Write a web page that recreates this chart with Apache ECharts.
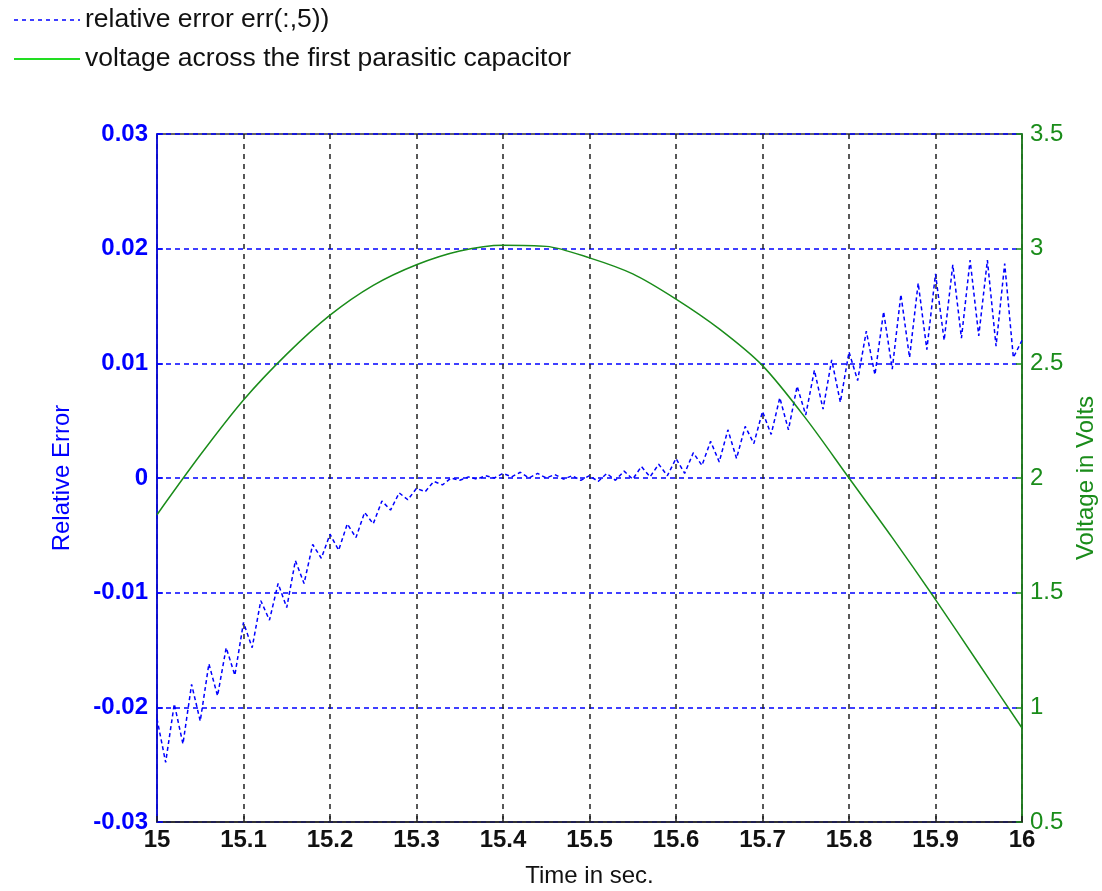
<!DOCTYPE html>
<html>
<head>
<meta charset="utf-8">
<script src="https://cdn.jsdelivr.net/npm/echarts@6/dist/echarts.min.js"></script>
<style>
  html, body { margin: 0; padding: 0; background: #fff; }
  #main { width: 1102px; height: 891px; }
</style>
</head>
<body>
<div id="main"></div>
<script>
// relative error, every 0.01 s (zigzag between top and bottom of the band)
var errT = [];
for (var i = 0; i <= 100; i++) errT.push(+(15 + i / 100).toFixed(2));
var errV = [
  -0.0210, -0.0248, -0.0197, -0.0232, -0.0180, -0.0212, -0.0162, -0.0190, -0.0148, -0.0172,
  -0.0126, -0.0148, -0.0107, -0.0124, -0.0092, -0.0113, -0.0072, -0.0092, -0.0058, -0.0070,
  -0.0049, -0.0063, -0.0040, -0.0052, -0.0030, -0.0040, -0.0020, -0.0028, -0.0013, -0.0019,
  -0.0009, -0.0012, -0.0003, -0.0006, 0.0000, -0.0002, 0.0001, -0.0001, 0.0002, 0.0000,
  0.0004, 0.0001, 0.0005, 0.0000, 0.0004, 0.0000, 0.0003, -0.0001, 0.0002, -0.0002,
  0.0002, -0.0003, 0.0004, -0.0002, 0.0006, -0.0001, 0.0010, 0.0001, 0.0012, 0.0002,
  0.0017, 0.0004, 0.0022, 0.0011, 0.0032, 0.0014, 0.0042, 0.0017, 0.0045, 0.0030,
  0.0058, 0.0038, 0.0070, 0.0042, 0.0080, 0.0055, 0.0094, 0.0060, 0.0103, 0.0066,
  0.0110, 0.0085, 0.0128, 0.0090, 0.0145, 0.0095, 0.0160, 0.0105, 0.0170, 0.0112,
  0.0178, 0.0120, 0.0186, 0.0122, 0.0190, 0.0124, 0.0190, 0.0115, 0.0187, 0.0105,
  0.0120
];

// voltage across the first parasitic capacitor, every 0.05 s
var voltT = [15.00, 15.05, 15.10, 15.15, 15.20, 15.25, 15.30, 15.35, 15.40, 15.45, 15.50,
             15.55, 15.60, 15.65, 15.70, 15.75, 15.80, 15.85, 15.90, 15.95, 16.00];
var voltV = [1.84, 2.10, 2.34, 2.54, 2.71, 2.84, 2.93, 2.99, 3.015, 3.01, 2.96,
             2.89, 2.78, 2.65, 2.49, 2.26, 2.00, 1.74, 1.47, 1.19, 0.91];

var legendNames = ['relative error err(:,5))', 'voltage across the first parasitic capacitor'];

var BLUE = '#0000ff';
var GREEN = '#1a8c1a';
var FONT = '"Liberation Sans", Arial, sans-serif';

function pairs(xs, ys) {
  var out = [];
  for (var i = 0; i < xs.length; i++) out.push([xs[i], ys[i]]);
  return out;
}

var myChart = echarts.init(document.getElementById('main'));

var option = {
  animation: false,
  backgroundColor: '#ffffff',
  textStyle: { fontFamily: FONT },
  legend: {
    orient: 'vertical',
    left: 8,
    top: 1,
    itemWidth: 66,
    itemHeight: 14,
    itemGap: 11,
    textStyle: { fontSize: 26.5, lineHeight: 28, color: '#111', fontFamily: FONT },
    data: [
      { name: legendNames[0], itemStyle: { opacity: 0 }, lineStyle: { color: BLUE, type: [4, 4], width: 1.5 } },
      { name: legendNames[1], itemStyle: { opacity: 0 }, lineStyle: { color: '#22dd22', type: 'solid', width: 2 } }
    ]
  },
  grid: {
    left: 157, right: 80, top: 134, bottom: 69,
    outerBoundsMode: 'none',
    containLabel: false,
    show: true, borderColor: '#333', borderWidth: 1.5, backgroundColor: '#fff'
  },
  xAxis: {
    type: 'value',
    min: 15, max: 16, interval: 0.1,
    name: 'Time in sec.',
    nameLocation: 'middle',
    nameGap: 42,
    nameTextStyle: { fontSize: 24, color: '#111', fontFamily: FONT },
    axisLine: { show: true, onZero: false, lineStyle: { color: '#222', width: 1.5 } },
    axisTick: { show: true, inside: true, length: 6, lineStyle: { color: '#222', width: 1.5 } },
    axisLabel: {
      fontSize: 24, fontWeight: 'bold', color: '#111', margin: 6,
      formatter: function (v) { return String(Number(v.toFixed(1))); }
    },
    splitLine: { show: true, lineStyle: { color: '#222', type: [5, 5], width: 1.5 } }
  },
  yAxis: [
    {
      type: 'value',
      min: -0.03, max: 0.03, interval: 0.01,
      position: 'left',
      name: 'Relative Error',
      nameLocation: 'middle',
      nameGap: 83,
      nameTextStyle: { fontSize: 24, color: BLUE, fontFamily: FONT },
      axisLine: { show: true, onZero: false, lineStyle: { color: BLUE, width: 1.5 } },
      axisTick: { show: true, inside: true, length: 6, lineStyle: { color: BLUE, width: 1.5 } },
      axisLabel: {
        fontSize: 24, fontWeight: 'bold', color: BLUE, margin: 9,
        formatter: function (v) { return Math.abs(v) < 1e-9 ? '0' : v.toFixed(2); }
      },
      splitLine: { show: true, lineStyle: { color: BLUE, type: [5, 4], width: 1.5 } }
    },
    {
      type: 'value',
      min: 0.5, max: 3.5, interval: 0.5,
      position: 'right',
      name: 'Voltage in Volts',
      nameLocation: 'middle',
      nameGap: 49,
      nameTextStyle: { fontSize: 24, color: GREEN, fontFamily: FONT },
      axisLine: { show: true, onZero: false, lineStyle: { color: GREEN, width: 1.5 } },
      axisTick: { show: true, inside: true, length: 6, lineStyle: { color: GREEN, width: 1.5 } },
      axisLabel: {
        fontSize: 24, color: GREEN, margin: 8,
        formatter: function (v) { return String(Number(v.toFixed(1))); }
      },
      splitLine: { show: false }
    }
  ],
  series: [
    {
      name: legendNames[0],
      type: 'line',
      yAxisIndex: 0,
      data: pairs(errT, errV),
      symbol: 'none',
      lineStyle: { color: BLUE, width: 1.5, type: [4, 3] },
      itemStyle: { color: BLUE },
      z: 3
    },
    {
      name: legendNames[1],
      type: 'line',
      yAxisIndex: 1,
      data: pairs(voltT, voltV),
      symbol: 'none',
      smooth: 0.3,
      lineStyle: { color: GREEN, width: 1.5, type: 'solid' },
      itemStyle: { color: GREEN },
      z: 4
    }
  ]
};

myChart.setOption(option);
</script>
</body>
</html>
